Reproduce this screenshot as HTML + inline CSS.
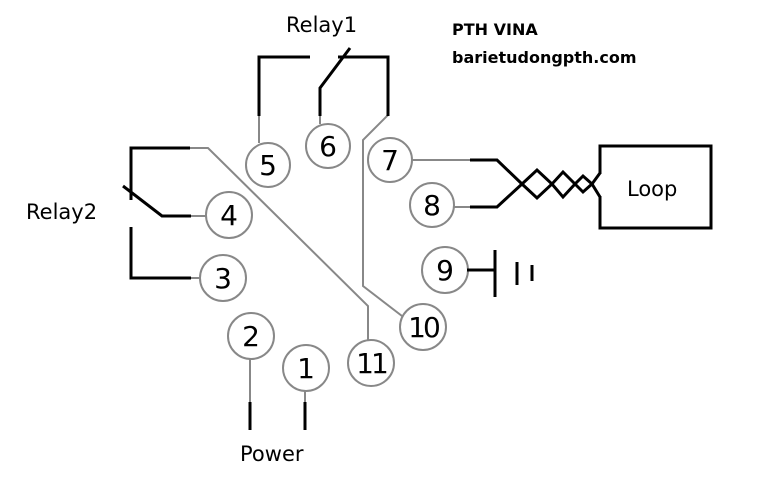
<!DOCTYPE html>
<html><head><meta charset="utf-8"><style>
html,body{margin:0;padding:0;background:#fff;}
svg{display:block;}
text{font-family:"DejaVu Sans","Liberation Sans",sans-serif;}
</style></head><body>
<svg width="764" height="480" viewBox="0 0 764 480" xmlns="http://www.w3.org/2000/svg">
<g fill="none" stroke="#888" stroke-width="2">
<polyline points="259,115 259,143"/>
<polyline points="320,115 320,124"/>
<polyline points="388,115 363,140 363,286 402,316"/>
<polyline points="190,148 208,148 368,306 368,340"/>
<polyline points="190,216 206,216"/>
<polyline points="190,278 200,278"/>
<polyline points="412,160 470,160"/>
<polyline points="454,207 470,207"/>
<polyline points="250,359 250,402"/>
<polyline points="305,390 305,402"/>
<circle cx="268" cy="165" r="22" fill="#fff"/>
<circle cx="328" cy="146" r="22" fill="#fff"/>
<circle cx="390" cy="160" r="22" fill="#fff"/>
<circle cx="432" cy="205" r="22" fill="#fff"/>
<circle cx="229" cy="215" r="23" fill="#fff"/>
<circle cx="223" cy="278" r="23" fill="#fff"/>
<circle cx="251" cy="336" r="23" fill="#fff"/>
<circle cx="306" cy="368" r="23" fill="#fff"/>
<circle cx="371" cy="363" r="23" fill="#fff"/>
<circle cx="423" cy="327" r="23" fill="#fff"/>
<circle cx="445" cy="270" r="23" fill="#fff"/>
</g>
<g fill="none" stroke="#000" stroke-width="3">
<polyline points="259,116 259,57 310,57"/>
<polyline points="320,116 320,88 350,48"/>
<polyline points="338,57 388,57 388,116"/>
<polyline points="131,200 131,148 190,148"/>
<polyline points="123,186 162,216 191,216"/>
<polyline points="131,227 131,278 191,278"/>
<line x1="250" y1="402" x2="250" y2="430"/>
<line x1="305" y1="402" x2="305" y2="430"/>
<polyline points="470,160 497,160 522,184 537,198 552,184 563,172 575,184 583,192 592,184 600,173"/>
<polyline points="470,207 497,207 522,184 537,170 552,184 563,197 575,184 583,176 592,184 600,197"/>
<polyline points="600,174 600,146 711,146 711,228 600,228 600,196"/>
<line x1="467" y1="270" x2="495" y2="270"/>
<line x1="495" y1="250" x2="495" y2="297"/>
<line x1="517" y1="262" x2="517" y2="285"/>
<line x1="532" y1="265" x2="532" y2="281"/>
</g>
<g font-size="28" fill="#000" text-anchor="middle">
<text x="268" y="175">5</text>
<text x="328" y="156">6</text>
<text x="390" y="170">7</text>
<text x="432" y="215">8</text>
<text x="229" y="225">4</text>
<text x="223" y="288">3</text>
<text x="251" y="346">2</text>
<text x="306" y="378">1</text>
<text x="371" y="373" letter-spacing="-3">11</text>
<text x="423" y="337" letter-spacing="-3">10</text>
<text x="445" y="280">9</text>
</g>
<g font-size="21" fill="#000">
<text x="286" y="32">Relay1</text>
<text x="26" y="219">Relay2</text>
<text x="240" y="461">Power</text>
<text x="627" y="196">Loop</text>
</g>
<g font-size="16" font-weight="bold" fill="#000">
<text x="452" y="35">PTH VINA</text>
<text x="452" y="63">barietudongpth.com</text>
</g>
</svg>
</body></html>
